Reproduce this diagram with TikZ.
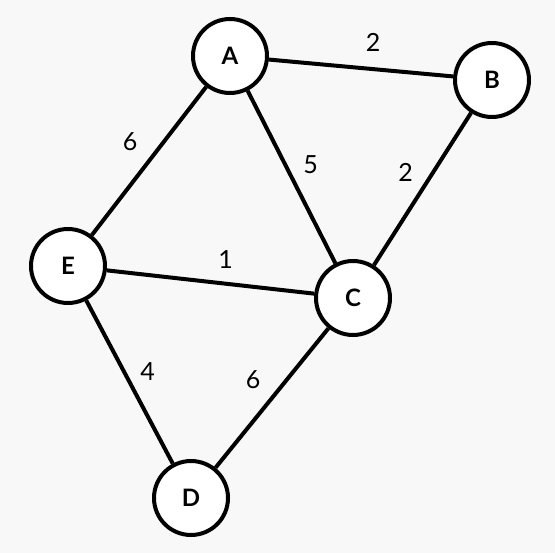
\documentclass[tikz,border=0pt]{standalone}
\usepackage{fontspec}
\setmainfont{Lato}
\usepackage{xcolor}
\usepackage{tikz}
\usetikzlibrary{positioning}
\definecolor{bgpaper}{RGB}{248,248,248}

\begin{document}
\begin{tikzpicture}[x=1pt, y=-1pt, line width=4pt,
      vertex/.style={draw, circle, fill=white, minimum size=74pt, inner sep=0pt, font=\fontsize{24}{26}\selectfont\bfseries},
      wt/.style={draw=none, font=\fontsize{25}{27}\selectfont}]
    \fill[bgpaper] (0,0) rectangle (555,553);
    \useasboundingbox (0,0) rectangle (555,553);
    % vertices
    \node[vertex] (A) at (230,56) {A};
    \node[vertex] (B) at (492,80) {B};
    \node[vertex] (E) at (68,266) {E};
    \node[vertex] (C) at (353,298) {C};
    \node[vertex] (D) at (191,498) {D};
    % weighted edges
    \draw (A) -- node[wt, xshift=12pt, yshift=26pt] {2} (B);
    \draw (A) -- node[wt, xshift=-19pt, yshift=19pt] {6} (E);
    \draw (A) -- node[wt, xshift=19pt, yshift=12pt] {5} (C);
    \draw (B) -- node[wt, xshift=-17pt, yshift=17pt] {2} (C);
    \draw (E) -- node[wt, xshift=15pt, yshift=22pt] {1} (C);
    \draw (E) -- node[wt, xshift=18pt, yshift=10pt] {4} (D);
    \draw (C) -- node[wt, xshift=-19pt, yshift=18pt] {6} (D);
  \end{tikzpicture}
\end{document}
